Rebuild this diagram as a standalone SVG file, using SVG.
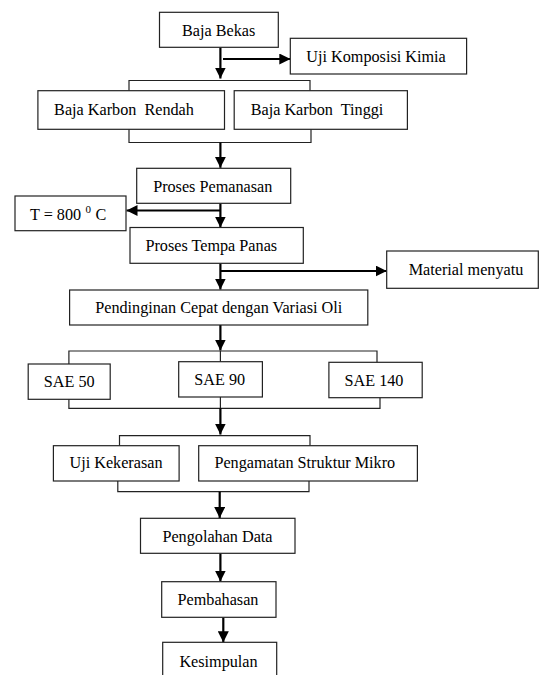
<svg xmlns="http://www.w3.org/2000/svg" width="540" height="675" viewBox="0 0 540 675">
<defs>
<style>
.b{fill:#fff;stroke:#222;stroke-width:1.2}
.t{font-family:"Liberation Serif","Times New Roman",serif;font-size:16.2px;fill:#000;text-anchor:middle}
.a{fill:none;stroke:#000;stroke-width:2.2}
.l{fill:none;stroke:#222;stroke-width:1.2}
</style>
<marker id="ah" viewBox="0 0 10 10" refX="10" refY="5" markerWidth="5" markerHeight="5" orient="auto" markerUnits="strokeWidth">
<path d="M0,0 L10,5 L0,10 Z" fill="#000"/>
</marker>
</defs>
<rect width="540" height="675" fill="#fff"/>
<g id="connectors">
<line class="a" x1="220.4" y1="47.3" x2="220.4" y2="78.5" marker-end="url(#ah)"/>
<line class="a" x1="223" y1="59" x2="290.3" y2="59" marker-end="url(#ah)"/>
<polyline class="l" points="129,90.7 129,80.5 310,80.5 310,90.7"/>
<polyline class="l" points="129,129.3 129,142.5 311,142.5 311,129.3"/>
<line class="a" x1="220.4" y1="142.5" x2="220.4" y2="167.8" marker-end="url(#ah)"/>
<line class="a" x1="220.4" y1="203.3" x2="220.4" y2="227.5" marker-end="url(#ah)"/>
<line class="a" x1="220.4" y1="210.5" x2="126.5" y2="210.5" marker-end="url(#ah)"/>
<line class="a" x1="220.4" y1="263.3" x2="220.4" y2="289.5" marker-end="url(#ah)"/>
<line class="a" x1="220.4" y1="271" x2="386.7" y2="271" marker-end="url(#ah)"/>
<line class="a" x1="220.4" y1="325" x2="220.4" y2="350.5" marker-end="url(#ah)"/>
<polyline class="l" points="68.9,364 68.9,351 377,351 377,362.3"/>
<line class="l" x1="220.4" y1="351" x2="220.4" y2="361.7"/>
<polyline class="l" points="68.9,399.3 68.9,408.3 380,408.3 380,397.7"/>
<line class="l" x1="220.4" y1="397" x2="220.4" y2="408.3"/>
<line class="a" x1="220.4" y1="408.3" x2="220.4" y2="434.5" marker-end="url(#ah)"/>
<polyline class="l" points="119.5,445.7 119.5,435.7 310,435.7 310,445.7"/>
<polyline class="l" points="117.8,481 117.8,491.7 309,491.7 309,481"/>
<line class="a" x1="219.7" y1="491.7" x2="219.7" y2="518" marker-end="url(#ah)"/>
<line class="a" x1="220.4" y1="553.3" x2="220.4" y2="581.5" marker-end="url(#ah)"/>
<line class="a" x1="223.3" y1="617.3" x2="223.3" y2="642.3" marker-end="url(#ah)"/>
</g>
<g id="baja-bekas"><rect class="b" x="159.5" y="12.3" width="118.8" height="35"/><text class="t" x="218.7" y="35.5">Baja Bekas</text></g>
<g id="uji-komposisi"><rect class="b" x="290.3" y="38.3" width="176.3" height="35.7"/><text class="t" x="376" y="62">Uji Komposisi Kimia</text></g>
<g id="baja-karbon-rendah"><rect class="b" x="37.9" y="90.7" width="186.6" height="38.6"/><text class="t" x="124" y="115" xml:space="preserve">Baja Karbon  Rendah</text></g>
<g id="baja-karbon-tinggi"><rect class="b" x="234.2" y="90.7" width="173.2" height="38.6"/><text class="t" x="317" y="115" xml:space="preserve">Baja Karbon  Tinggi</text></g>
<g id="proses-pemanasan"><rect class="b" x="136.7" y="168.3" width="154" height="35"/><text class="t" x="212.7" y="191.7">Proses Pemanasan</text></g>
<g id="suhu"><rect class="b" x="15" y="196" width="111" height="34.7"/><text class="t" x="30" y="219.5" style="text-anchor:start">T = 800<tspan x="85.5" y="213" font-size="11">0</tspan><tspan x="95.5" y="219.5">C</tspan></text></g>
<g id="proses-tempa"><rect class="b" x="130" y="227.5" width="173.3" height="35.8"/><text class="t" x="211.3" y="250.7">Proses Tempa Panas</text></g>
<g id="material-menyatu"><rect class="b" x="386.7" y="251" width="151.6" height="37.3"/><text class="t" x="466" y="275">Material menyatu</text></g>
<g id="pendinginan"><rect class="b" x="69.6" y="290" width="298.2" height="35"/><text class="t" x="218.7" y="313.3">Pendinginan Cepat dengan Variasi Oli</text></g>
<g id="sae50"><rect class="b" x="28.2" y="364" width="82" height="35.3"/><text class="t" x="69.2" y="386.7">SAE 50</text></g>
<g id="sae90"><rect class="b" x="178.7" y="361.7" width="83.7" height="35.3"/><text class="t" x="219.7" y="385">SAE 90</text></g>
<g id="sae140"><rect class="b" x="328.9" y="362.3" width="93.3" height="35.4"/><text class="t" x="374" y="386">SAE 140</text></g>
<g id="uji-kekerasan"><rect class="b" x="53.4" y="445.7" width="125.7" height="35.3"/><text class="t" x="116" y="468.3">Uji Kekerasan</text></g>
<g id="struktur-mikro"><rect class="b" x="198.7" y="445.7" width="218.7" height="35.3"/><text class="t" x="304.8" y="468.3">Pengamatan Struktur Mikro</text></g>
<g id="pengolahan-data"><rect class="b" x="140.5" y="518.3" width="154.5" height="35"/><text class="t" x="217.5" y="541.7">Pengolahan Data</text></g>
<g id="pembahasan"><rect class="b" x="161.7" y="581.7" width="114.3" height="35.6"/><text class="t" x="218" y="605">Pembahasan</text></g>
<g id="kesimpulan"><rect class="b" x="162.7" y="642.3" width="114" height="40"/><text class="t" x="218.5" y="666.7">Kesimpulan</text></g>
</svg>
